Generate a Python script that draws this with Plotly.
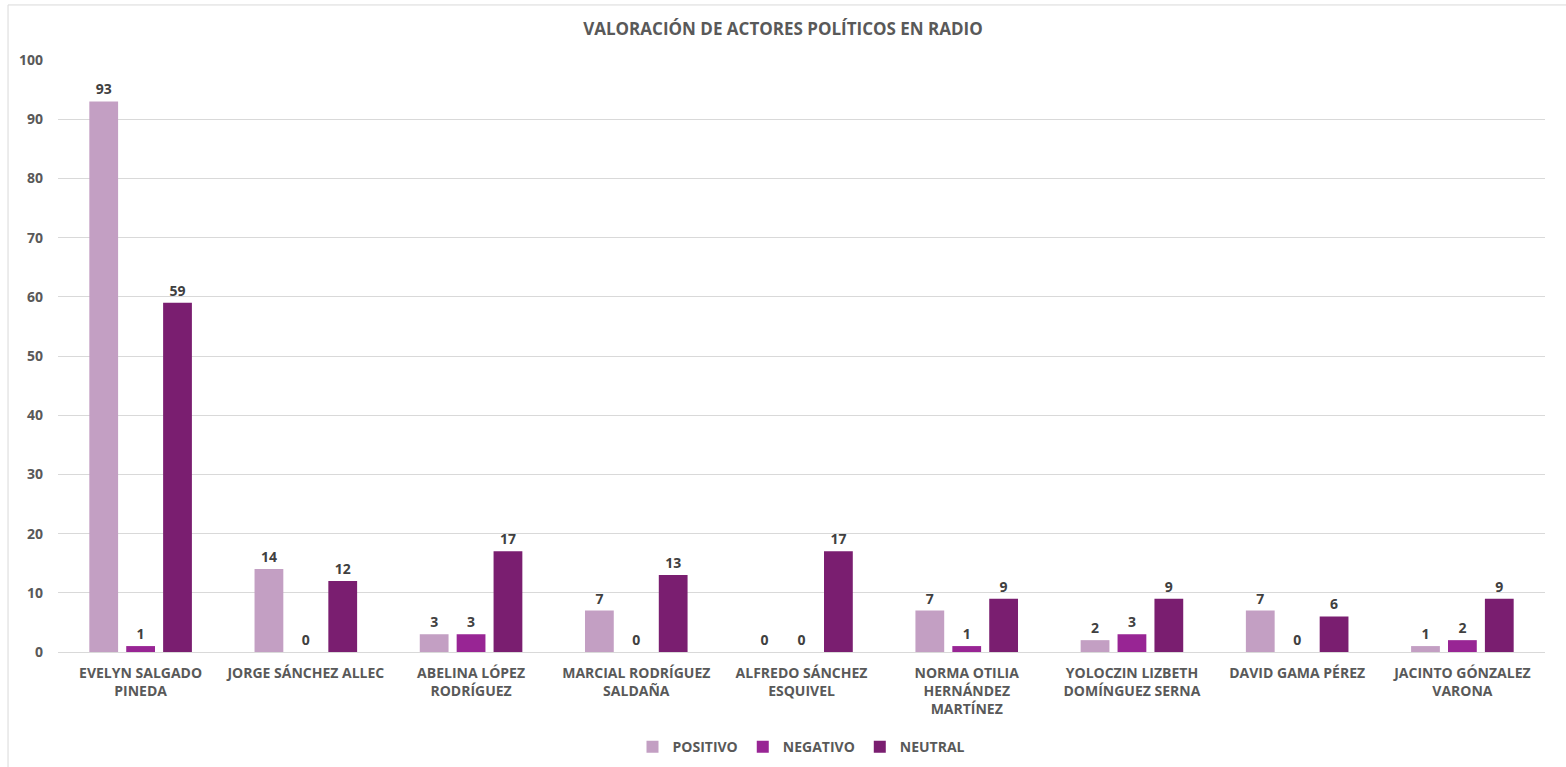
import plotly.graph_objects as go

categories = ["EVELYN SALGADO<br>PINEDA", "JORGE SÁNCHEZ ALLEC", "ABELINA LÓPEZ<br>RODRÍGUEZ",
              "MARCIAL RODRÍGUEZ<br>SALDAÑA", "ALFREDO SÁNCHEZ<br>ESQUIVEL",
              "NORMA OTILIA<br>HERNÁNDEZ<br>MARTÍNEZ", "YOLOCZIN LIZBETH<br>DOMÍNGUEZ SERNA",
              "DAVID GAMA PÉREZ", "JACINTO GÓNZALEZ<br>VARONA"]
positivo = [93, 14, 3, 7, 0, 7, 2, 7, 1]
negativo = [1, 0, 3, 0, 0, 1, 3, 0, 2]
neutral = [59, 12, 17, 13, 17, 9, 9, 6, 9]

series = [("POSITIVO", positivo, "#C39FC3"), ("NEGATIVO", negativo, "#982594"), ("NEUTRAL", neutral, "#7A1E70")]

FONT = "Open Sans"
fig = go.Figure()
for name, vals, col in series:
    fig.add_trace(go.Bar(
        x=categories, y=vals, name=name, marker=dict(color=col, line=dict(width=0)),
        text=[str(v) for v in vals], textposition="outside", cliponaxis=False,
        textfont=dict(family=FONT, size=14, color="#404040", weight="bold"),
    ))

fig.update_layout(
    width=1566, height=767,
    paper_bgcolor="white", plot_bgcolor="white",
    margin=dict(l=58, r=21, t=60, b=115),
    barmode="group", bargap=0.33, bargroupgap=0.22,
    title=dict(text="<b>VALORACIÓN DE ACTORES POLÍTICOS EN RADIO</b>", x=0.5, xanchor="center",
               y=0.962, yanchor="middle", font=dict(family=FONT, size=17, color="#595959")),
    font=dict(family=FONT, color="#595959"),
    legend=dict(orientation="h", x=0.5, xanchor="center", yref="container", y=0.026, yanchor="middle",
                font=dict(family=FONT, size=14, color="#595959", weight="bold"),
                itemwidth=30, traceorder="normal", bgcolor="rgba(0,0,0,0)"),
    xaxis=dict(tickfont=dict(family=FONT, size=14, color="#595959", weight="bold"),
               showline=False, ticks="", showgrid=False, automargin=False,
               ticklabelstandoff=11),
    yaxis=dict(range=[0, 100], dtick=10, gridcolor="#D9D9D9", gridwidth=1,
               zeroline=True, zerolinecolor="#D9D9D9", zerolinewidth=1,
               tickfont=dict(family=FONT, size=14, color="#595959", weight="bold"),
               ticks="", showline=False, automargin=False, ticklabelstandoff=14),
    shapes=[dict(type="rect", xref="paper", yref="paper", x0=-0.0336, x1=1.02, y0=-0.3, y1=1.093,
                 line=dict(color="#D9D9D9", width=1))],
)

fig.write_html("out.html", post_script="document.body.style.margin='0';",
               config={"displayModeBar": False})
